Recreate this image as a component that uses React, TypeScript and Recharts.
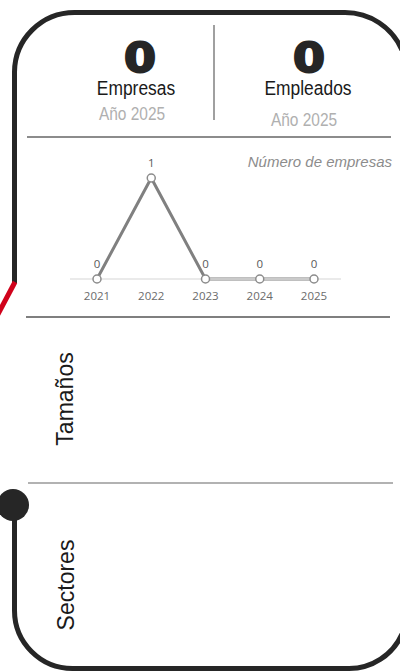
import { LabelList, Line, LineChart, XAxis, YAxis } from 'recharts';

const years = ['2021', '2022', '2023', '2024', '2025'];
const empresas = [0, 1, 0, 0, 0];

const totalEmpresas = 0;
const totalEmpleados = 0;
const anio = 'Año 2025';

const data = years.map((y, i) => ({ year: y, value: empresas[i] }));

const SANS = "'Liberation Sans', Arial, sans-serif";
const TICK_FONT = "'Open Sans', 'Noto Sans', sans-serif";

// etiqueta encima de cada punto
const ValueLabel = (props: any) => {
    const { x, y, value } = props;
    return (
        <text x={x} y={y - 11} textAnchor="middle" fill="#595959" fontSize={11.5} fontFamily={TICK_FONT}>
            {value}
        </text>
    );
};

// marco: solo los tramos visibles (el borde derecho queda fuera)
const FRAME_TOP = 'M 14.5 283 L 14.5 72 A 60 60 0 0 1 74.5 12.5 L 345 12.5 A 62 62 0 0 1 402 50.1';
const FRAME_BOTTOM = 'M 402 634.1 A 58 58 0 0 1 349 668.5 L 72.5 668.5 A 58 58 0 0 1 14.5 610.5 L 14.5 505';

const App = () => {
    return (
        <div
            style={{
                position: 'absolute',
                left: 0,
                top: 0,
                width: 400,
                height: 672,
                overflow: 'hidden',
                background: '#fff',
                fontFamily: SANS,
            }}
        >
            <svg width={400} height={672} style={{ position: 'absolute', left: 0, top: 0 }}>
                <path d={FRAME_TOP} fill="none" stroke="#262626" strokeWidth={5} />
                <path d={FRAME_BOTTOM} fill="none" stroke="#262626" strokeWidth={5} />
                <line x1={15} y1={282} x2={-3} y2={316} stroke="#d0021b" strokeWidth={5} />
                <circle cx={13} cy={505} r={16} fill="#262626" />

                {/* cabecera */}
                <line x1={214} y1={25} x2={214} y2={120} stroke="#808080" strokeWidth={1.5} />
                <text transform="translate(140,72) scale(1.15,1)" textAnchor="middle" fontFamily="'DejaVu Sans', sans-serif" fontWeight={900} fontSize={40} fill="#262626" stroke="#262626" strokeWidth={2}>
                    {totalEmpresas}
                </text>
                <text transform="translate(136,95) scale(0.87,1)" textAnchor="middle" fontSize={20} fill="#1a1a1a">
                    Empresas
                </text>
                <text transform="translate(132,120) scale(0.86,1)" textAnchor="middle" fontSize={18} fill="#b0b0b0">
                    {anio}
                </text>
                <text transform="translate(309,72) scale(1.15,1)" textAnchor="middle" fontFamily="'DejaVu Sans', sans-serif" fontWeight={900} fontSize={40} fill="#262626" stroke="#262626" strokeWidth={2}>
                    {totalEmpleados}
                </text>
                <text transform="translate(308,95) scale(0.87,1)" textAnchor="middle" fontSize={20} fill="#1a1a1a">
                    Empleados
                </text>
                <text transform="translate(304,126) scale(0.86,1)" textAnchor="middle" fontSize={18} fill="#b0b0b0">
                    {anio}
                </text>
                <line x1={27} y1={137} x2={391} y2={137} stroke="#666" strokeWidth={1.5} />

                <text x={392} y={167} textAnchor="end" fontSize={15} fontStyle="italic" fill="#8c8c8c">
                    Número de empresas
                </text>

                <line x1={26} y1={317} x2={390} y2={317} stroke="#555" strokeWidth={1.5} />
                <text transform="translate(73,399) rotate(-90)" textAnchor="middle" fontSize={23} fill="#1a1a1a">
                    Tamaños
                </text>
                <line x1={28} y1={483} x2={393} y2={483} stroke="#999" strokeWidth={1.5} />
                <text transform="translate(74,585) rotate(-90)" textAnchor="middle" fontSize={23} fill="#1a1a1a">
                    Sectores
                </text>
            </svg>

            <div style={{ position: 'absolute', left: 0, top: 140 }}>
                <LineChart width={400} height={175} data={data} margin={{ top: 38, right: 59, left: 70, bottom: 6 }}>
                    <XAxis
                        dataKey="year"
                        height={30}
                        padding={{ left: 27, right: 27 }}
                        axisLine={{ stroke: '#e3e3e3', strokeWidth: 1.5 }}
                        tickLine={false}
                        tickSize={6}
                        tickMargin={7}
                        tick={{ fill: '#6b6b6b', fontSize: 11.5, fontFamily: TICK_FONT }}
                    />
                    <YAxis hide domain={[0, 1]} />
                    <Line
                        type="linear"
                        dataKey="value"
                        stroke="#808080"
                        strokeWidth={3}
                        dot={{ r: 4, fill: '#fff', stroke: '#8c8c8c', strokeWidth: 1.5 }}
                        isAnimationActive={false}
                    >
                        <LabelList dataKey="value" content={<ValueLabel />} />
                    </Line>
                </LineChart>
            </div>
        </div>
    );
};

export default App;
